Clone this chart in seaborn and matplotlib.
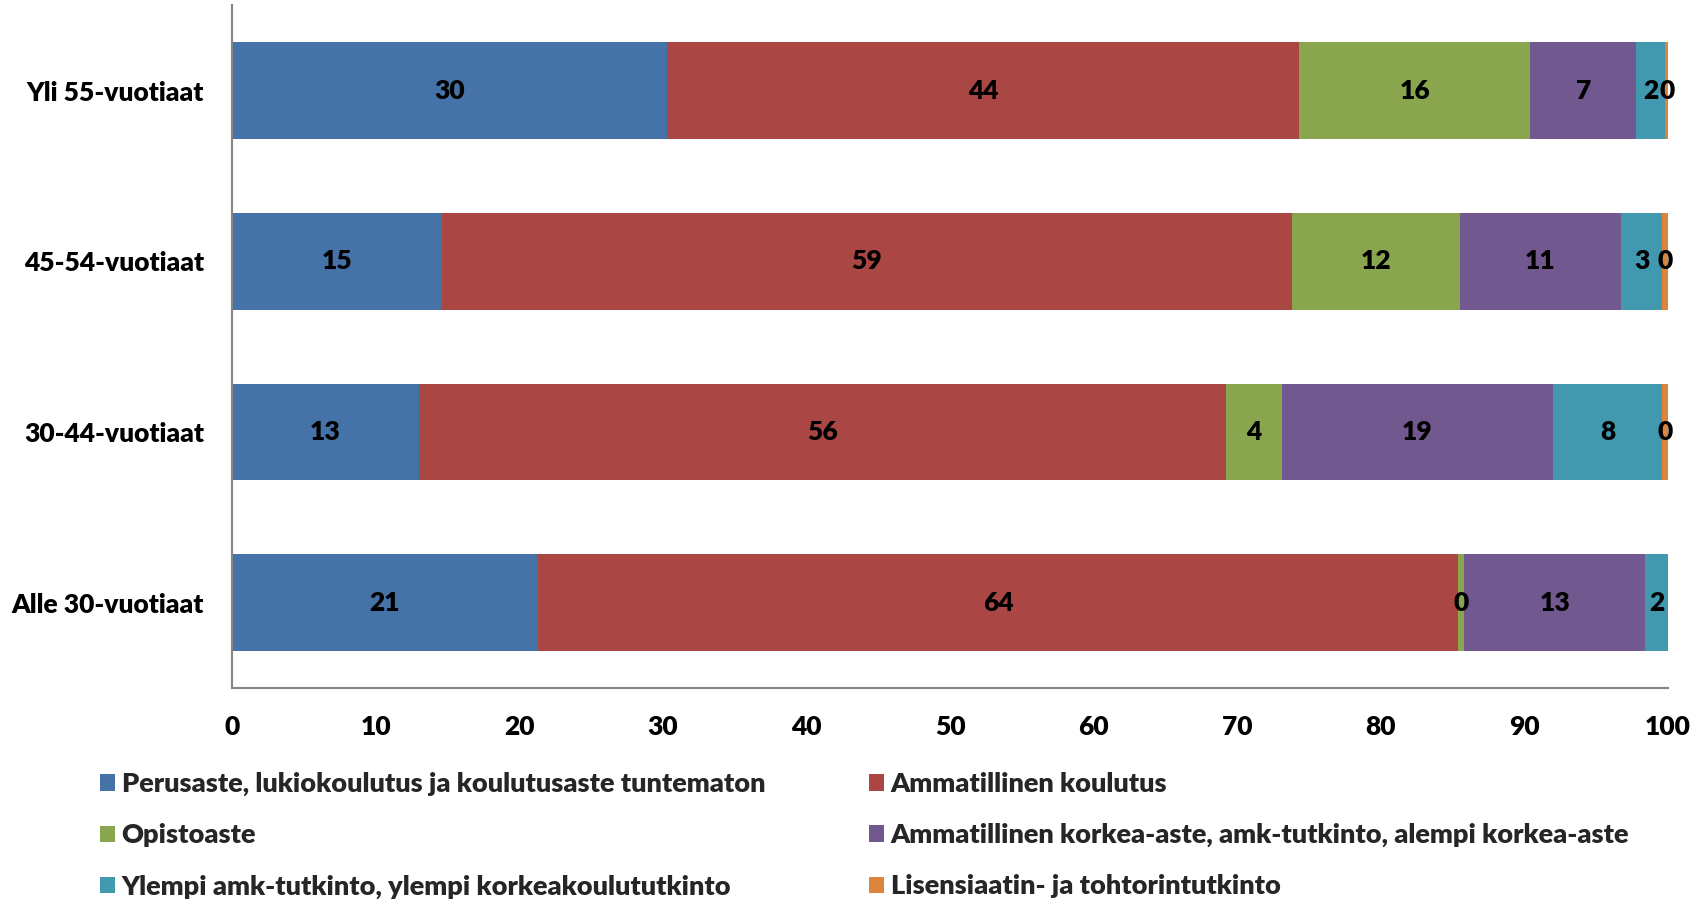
import matplotlib
matplotlib.use("Agg")
import matplotlib.pyplot as plt
import seaborn as sns
import pandas as pd
import numpy as np
from matplotlib.patches import Patch

categories = ["Yli 55-vuotiaat", "45-54-vuotiaat", "30-44-vuotiaat", "Alle 30-vuotiaat"]
series_names = [
    "Perusaste, lukiokoulutus ja koulutusaste tuntematon",
    "Ammatillinen koulutus",
    "Opistoaste",
    "Ammatillinen korkea-aste, amk-tutkinto, alempi korkea-aste",
    "Ylempi amk-tutkinto, ylempi korkeakoulututkinto",
    "Lisensiaatin- ja tohtorintutkinto",
]
perusaste = [30.3, 14.6, 13.0, 21.3]
ammatillinen = [44.0, 59.2, 56.2, 64.1]
opisto = [16.1, 11.7, 3.9, 0.4]
amk = [7.4, 11.2, 18.9, 12.6]
ylempi = [2.0, 2.9, 7.6, 1.6]
lisensiaatti = [0.2, 0.4, 0.4, 0.0]
colors = ["#4572A7", "#AA4643", "#89A54E", "#71588F", "#4198AF", "#DB843D"]
xticks = [0, 10, 20, 30, 40, 50, 60, 70, 80, 90, 100]

sns.set_theme(style="white")
plt.rcParams["font.family"] = ["Lato", "DejaVu Sans"]
W = "heavy"
plt.rcParams["font.weight"] = W

series = [perusaste, ammatillinen, opisto, amk, ylempi, lisensiaatti]
values = np.array(series)
cum = np.cumsum(values, axis=0)

fig = plt.figure(figsize=(17.07, 9.01), dpi=100)
ax = fig.add_axes([0.1359, 0.2364, 0.9772 - 0.1359, 0.994 - 0.2364])

# draw cumulative bars from the longest to the shortest so they appear stacked
for i in range(len(series) - 1, -1, -1):
    df = pd.DataFrame({"cat": categories, "val": cum[i]})
    sns.barplot(data=df, x="val", y="cat", order=categories, color=colors[i],
                width=0.567, orient="h", ax=ax, saturation=1, linewidth=0)

FS = 19
for i in range(len(series)):
    for j, cat in enumerate(categories):
        v = values[i, j]
        if v <= 0:
            continue
        xc = cum[i, j] - v / 2
        ax.text(xc, j, f"{v:.0f}", ha="center", va="center", fontsize=FS,
                fontweight=W, color="black")

ax.set_xlim(0, 100)
ax.set_ylim(3.5, -0.5)
ax.set_xticks(xticks)
ax.set_xticklabels([str(t) for t in xticks], fontsize=FS, fontweight=W)
ax.set_yticks(range(len(categories)))
ax.set_yticklabels(categories, fontsize=FS, fontweight=W)
ax.set_xlabel("")
ax.set_ylabel("")
ax.tick_params(axis="both", length=0, colors="black")
ax.tick_params(axis="x", pad=19.5)
ax.tick_params(axis="y", pad=20)
for s in ["top", "right"]:
    ax.spines[s].set_visible(False)
for s in ["left", "bottom"]:
    ax.spines[s].set_color("#868686")
    ax.spines[s].set_linewidth(1.5)

handles = [Patch(facecolor=c, edgecolor="none") for c in colors]
col1 = [0, 2, 4]
col2 = [1, 3, 5]
common = dict(frameon=False, handlelength=0.55, handleheight=0.55,
              handletextpad=0.25, labelspacing=1.0, borderaxespad=0, borderpad=0,
              prop={"weight": W, "size": 19.5})
leg1 = fig.legend([handles[k] for k in col1], [series_names[k] for k in col1],
                  loc="upper left", bbox_to_anchor=(100 / 1707, 1 - 772 / 901), **common)
leg2 = fig.legend([handles[k] for k in col2], [series_names[k] for k in col2],
                  loc="upper left", bbox_to_anchor=(869 / 1707, 1 - 772 / 901), **common)

fig.savefig("out.png", dpi=100)
